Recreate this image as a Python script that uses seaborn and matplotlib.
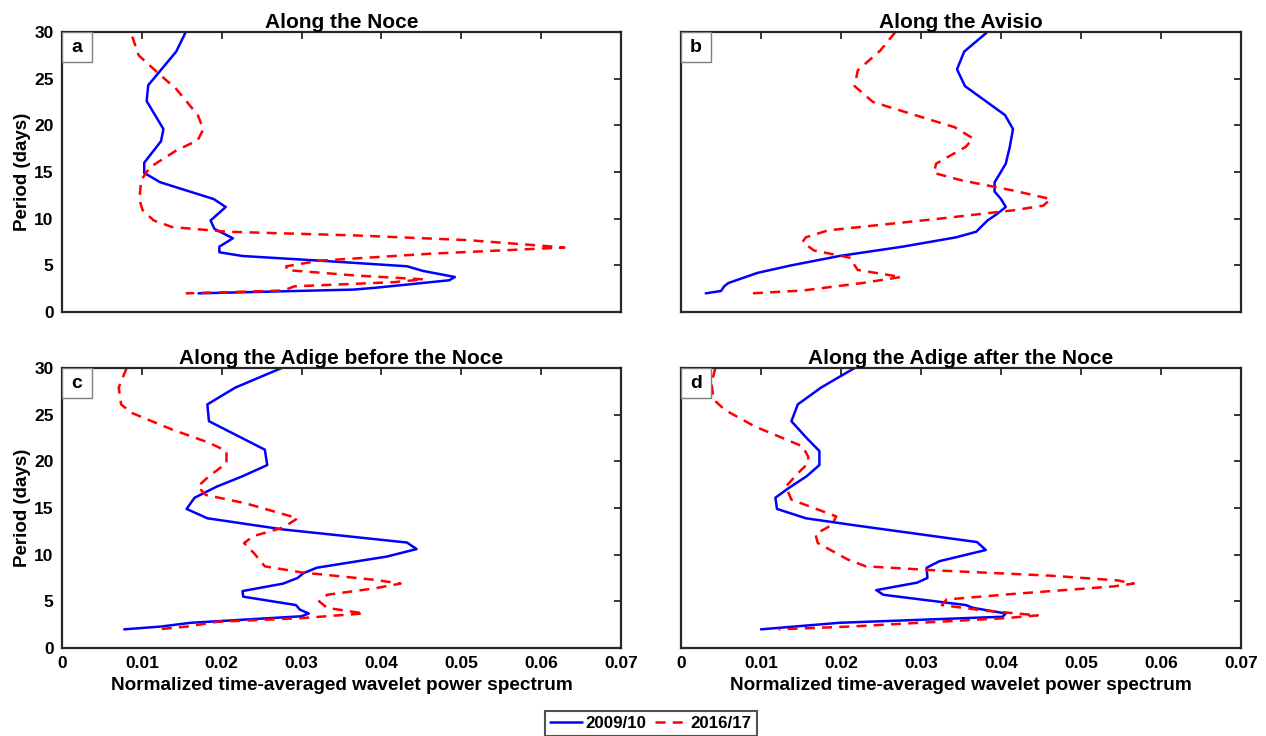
import numpy as np
import pandas as pd
import matplotlib
matplotlib.use('Agg')
import matplotlib.pyplot as plt
import seaborn as sns
from matplotlib.lines import Line2D
from matplotlib.patches import Rectangle

sns.set_style('white')
plt.rcParams['font.family'] = ['Liberation Sans', 'DejaVu Sans']
plt.rcParams['font.weight'] = 'bold'
plt.rcParams['text.color'] = 'black'
plt.rcParams['axes.labelcolor'] = 'black'
plt.rcParams['xtick.color'] = 'black'
plt.rcParams['ytick.color'] = 'black'

# ----------------------------
# Data (period in days vs normalized power)
# ----------------------------
# a - Along the Noce
noce_period_0910 = [30, 27.9, 24.3, 22.6, 19.6, 18.3, 16.0, 14.9, 13.9, 12.1, 11.25, 9.8, 8.9,
                    7.9, 7.0, 6.4, 6.0, 5.5, 4.9, 4.4, 3.75, 3.4, 2.6, 2.4, 2.0]
noce_power_0910 = [0.0155, 0.0143, 0.0108, 0.0106, 0.0127, 0.0124, 0.0103, 0.0103, 0.0123, 0.0190,
                   0.0205, 0.0186, 0.0191, 0.0214, 0.0197, 0.0197, 0.0226, 0.0323, 0.0432, 0.0452,
                   0.0492, 0.0485, 0.0393, 0.0365, 0.0171]
noce_period_1617 = [29.5, 27.5, 25.7, 23.9, 21.1, 19.6, 18.4, 17.3, 15.5, 14.1, 12.0, 10.9, 9.8,
                    9.1, 8.6, 8.2, 7.7, 7.1, 6.9, 6.8, 6.25, 5.5, 4.9, 4.5, 3.9, 3.5, 3.2, 2.75,
                    2.3, 2.0]
noce_power_1617 = [0.0088, 0.0096, 0.0119, 0.0143, 0.0170, 0.0177, 0.0170, 0.0143, 0.0110, 0.0099,
                   0.0097, 0.0101, 0.0115, 0.0138, 0.0207, 0.0369, 0.0508, 0.0601, 0.0629, 0.0601,
                   0.0462, 0.0323, 0.0281, 0.0281, 0.0369, 0.0453, 0.0416, 0.0291, 0.0277, 0.0155]

# b - Along the Avisio
avisio_period_0910 = [30, 27.9, 26.0, 24.2, 21.1, 19.6, 17.7, 15.9, 14.6, 13.9, 12.9, 12.1, 11.25,
                      10.5, 9.8, 8.6, 8.0, 7.0, 6.0, 5.0, 4.2, 3.1, 2.75, 2.25, 2.0]
avisio_power_0910 = [0.0383, 0.0354, 0.0345, 0.0355, 0.0405, 0.0415, 0.0411, 0.0406, 0.0397, 0.0392,
                     0.0392, 0.0400, 0.0406, 0.0395, 0.0383, 0.0369, 0.0344, 0.0277, 0.0198, 0.0138,
                     0.0096, 0.0059, 0.0054, 0.0050, 0.0031]
avisio_period_1617 = [30, 28.0, 25.9, 24.2, 22.5, 20.9, 19.8, 18.6, 17.7, 15.9, 14.9, 14.1, 13.0,
                      12.1, 11.4, 10.9, 10.0, 8.75, 8.0, 7.5, 6.6, 5.8, 5.0, 4.5, 3.75, 3.1, 2.3, 2.0]
avisio_power_1617 = [0.0268, 0.0249, 0.0221, 0.0217, 0.0240, 0.0300, 0.0342, 0.0365, 0.0356, 0.0319,
                     0.0316, 0.0351, 0.0416, 0.0462, 0.0453, 0.0416, 0.0323, 0.0184, 0.0156, 0.0152,
                     0.0166, 0.0212, 0.0217, 0.0221, 0.0275, 0.0226, 0.0152, 0.0089]

# c - Along the Adige before the Noce
adige1_period_0910 = [30, 27.9, 26.1, 24.3, 21.25, 19.6, 18.4, 17.3, 16.1, 14.9, 13.9, 12.7, 11.3,
                      10.6, 9.8, 8.6, 8.0, 7.5, 6.9, 6.1, 5.5, 4.6, 4.1, 3.7, 3.4, 2.7, 2.3, 2.0]
adige1_power_0910 = [0.0275, 0.0217, 0.0182, 0.0184, 0.0254, 0.0257, 0.0226, 0.0194, 0.0166, 0.0156,
                     0.0182, 0.0277, 0.0432, 0.0444, 0.0407, 0.0319, 0.0302, 0.0295, 0.0277, 0.0226,
                     0.0227, 0.0293, 0.0298, 0.0309, 0.0300, 0.0161, 0.0124, 0.0078]
adige1_period_1617 = [30, 27.9, 26.1, 25.2, 23.4, 22.0, 21.1, 19.8, 18.4, 17.3, 16.4, 15.5, 13.9,
                      12.9, 12.0, 11.25, 10.2, 8.75, 8.1, 7.3, 6.9, 6.4, 5.7, 5.0, 4.3, 3.7, 3.5,
                      3.2, 2.8, 2.3, 2.0]
adige1_power_1617 = [0.0081, 0.0071, 0.0074, 0.0087, 0.0138, 0.0184, 0.0206, 0.0206, 0.0184, 0.0170,
                     0.0180, 0.0230, 0.0295, 0.0277, 0.0240, 0.0228, 0.0240, 0.0254, 0.0300, 0.0392,
                     0.0424, 0.0392, 0.0332, 0.0322, 0.0332, 0.0378, 0.0346, 0.0300, 0.0194, 0.0157,
                     0.0120]

# d - Along the Adige after the Noce
adige2_period_0910 = [30, 27.9, 26.1, 24.3, 22.5, 21.1, 19.6, 18.4, 17.1, 16.1, 14.9, 13.9, 13.1,
                      11.35, 10.5, 9.3, 8.6, 7.5, 7.0, 6.2, 5.7, 4.6, 4.3, 3.7, 3.35, 2.7, 2.0]
adige2_power_0910 = [0.0217, 0.0175, 0.0146, 0.0138, 0.0157, 0.0173, 0.0173, 0.0157, 0.0134, 0.0118,
                     0.0120, 0.0156, 0.0221, 0.0370, 0.0381, 0.0323, 0.0307, 0.0308, 0.0295, 0.0244,
                     0.0253, 0.0356, 0.0365, 0.0406, 0.0402, 0.0198, 0.0100]
adige2_period_1617 = [30, 28.4, 26.6, 25.5, 23.75, 21.6, 20.5, 19.8, 18.8, 17.3, 15.9, 14.1, 13.2,
                      12.2, 11.25, 9.5, 8.75, 8.3, 7.75, 7.25, 6.9, 6.6, 5.8, 5.2, 4.6, 4.0, 3.5,
                      3.2, 2.3, 2.0]
adige2_power_1617 = [0.0043, 0.0038, 0.0041, 0.0055, 0.0092, 0.0152, 0.0159, 0.0159, 0.0147, 0.0131,
                     0.0138, 0.0194, 0.0189, 0.0168, 0.0171, 0.0208, 0.0231, 0.0323, 0.0462, 0.0545,
                     0.0566, 0.0541, 0.0416, 0.0332, 0.0326, 0.0380, 0.0446, 0.0406, 0.0212, 0.0122]

titles = ['Along the Noce', 'Along the Avisio',
          'Along the Adige before the Noce', 'Along the Adige after the Noce']
panel_letters = ['a', 'b', 'c', 'd']
series_labels = ['2009/10', '2016/17']
x_ticks = [0, 0.01, 0.02, 0.03, 0.04, 0.05, 0.06, 0.07]
x_tick_labels = ['0', '0.01', '0.02', '0.03', '0.04', '0.05', '0.06', '0.07']
y_ticks = [0, 5, 10, 15, 20, 25, 30]

panels = [
    (noce_period_0910, noce_power_0910, noce_period_1617, noce_power_1617),
    (avisio_period_0910, avisio_power_0910, avisio_period_1617, avisio_power_1617),
    (adige1_period_0910, adige1_power_0910, adige1_period_1617, adige1_power_1617),
    (adige2_period_0910, adige2_power_0910, adige2_period_1617, adige2_power_1617),
]

# ----------------------------
# Figure layout (pixel-matched axes)
# ----------------------------
W, H = 1266, 736
fig = plt.figure(figsize=(W / 100, H / 100), dpi=100)
boxes = [(62, 32, 559, 280), (681, 32, 560, 280),
         (62, 368, 559, 280), (681, 368, 560, 280)]

BLUE = '#0000ff'
RED = '#ff0000'
LW = 1.8
dash = (4.0, 2.9)

for i, (box, data) in enumerate(zip(boxes, panels)):
    x0, y0, w, h = box
    ax = fig.add_axes([x0 / W, (H - y0 - h) / H, w / W, h / H])
    p1, v1, p2, v2 = data
    df1 = pd.DataFrame({'power': v1, 'period': p1})
    df2 = pd.DataFrame({'power': v2, 'period': p2})
    sns.lineplot(data=df1, x='power', y='period', sort=False, estimator=None,
                 color=BLUE, lw=LW, ax=ax)
    sns.lineplot(data=df2, x='power', y='period', sort=False, estimator=None,
                 color=RED, lw=LW, ax=ax)
    ax.lines[-1].set_dashes(dash)

    ax.set_xlim(0, 0.07)
    ax.set_ylim(0, 30)
    ax.set_xticks(x_ticks)
    ax.set_yticks(y_ticks)
    ax.tick_params(direction='in', length=5, width=1.3, top=True, right=True,
                   labelsize=12.5, color='#262626', labelcolor='black', pad=6)
    for lab in ax.get_xticklabels() + ax.get_yticklabels():
        lab.set_fontweight('bold')
    if i >= 2:
        ax.set_xticklabels(x_tick_labels)
        ax.set_xlabel('Normalized time-averaged wavelet power spectrum',
                      fontsize=13.7, fontweight='bold', labelpad=4)
    else:
        ax.set_xticklabels([])
        ax.set_xlabel('')
    if i % 2 == 0:
        ax.set_ylabel('Period (days)', fontsize=13.5, fontweight='bold', labelpad=2)
    else:
        ax.set_yticklabels([])
        ax.set_ylabel('')
    for s in ax.spines.values():
        s.set_color('#262626')
        s.set_linewidth(1.6)
    ax.set_title(titles[i], fontsize=15, fontweight='bold', pad=3)

    # panel letter box
    bw, bh = 30 / w, 30 / h
    ax.add_patch(Rectangle((0, 1 - bh), bw, bh, transform=ax.transAxes,
                           facecolor='white', edgecolor='#7f7f7f', lw=1, zorder=5))
    ax.text(bw / 2, 1 - bh / 2, panel_letters[i], transform=ax.transAxes,
            ha='center', va='center', fontsize=14, fontweight='bold', zorder=6)

# ----------------------------
# Legend
# ----------------------------
handles = [Line2D([], [], color=BLUE, lw=LW),
           Line2D([], [], color=RED, lw=LW, dashes=dash)]
leg = fig.legend(handles, series_labels, loc='lower center', ncol=2,
                 bbox_to_anchor=(651 / W, -0.012), frameon=True, fancybox=False,
                 edgecolor='#262626', handlelength=1.9,
                 columnspacing=0.5, handletextpad=0.2, borderpad=0.3,
                 prop={'weight': 'bold', 'size': 12.2})
leg.get_frame().set_linewidth(1.5)

fig.savefig('out.png', dpi=100, facecolor='white')
